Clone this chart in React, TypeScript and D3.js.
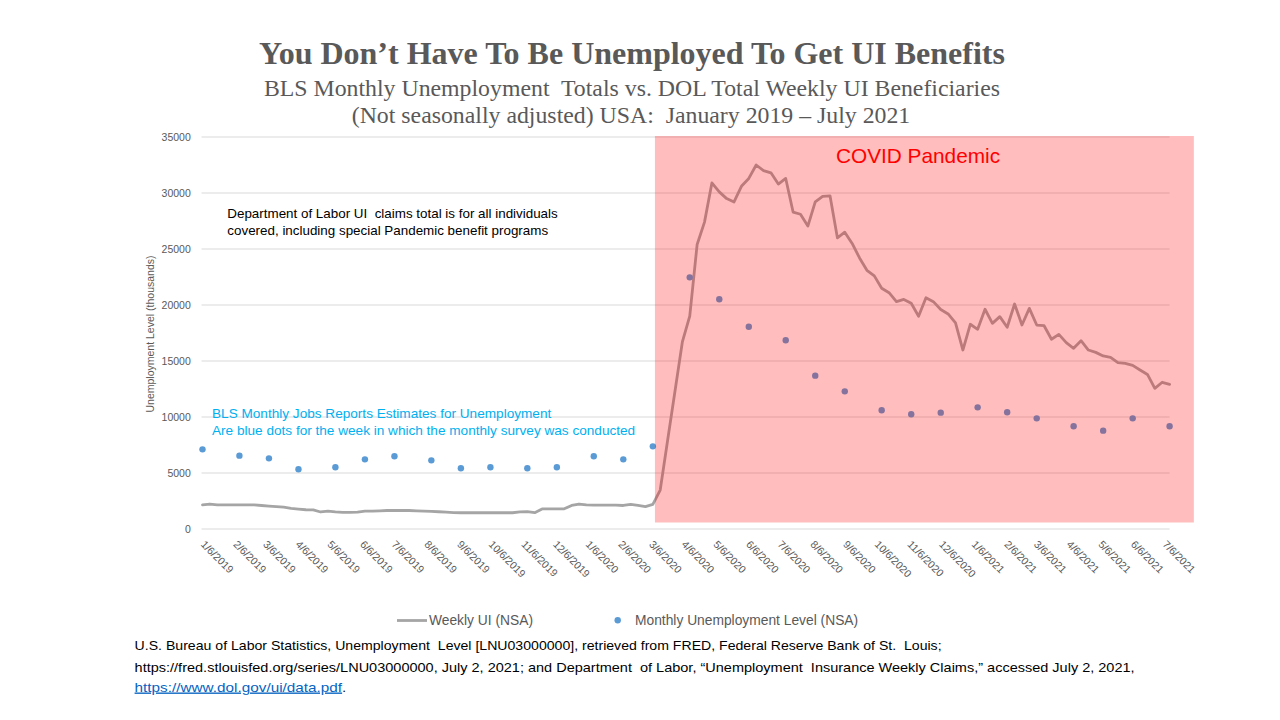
import React from 'react';
import * as d3 from 'd3';

// ---------------- data ----------------
const weekStart = '2019-01-12';
// DOL total weekly UI beneficiaries (thousands), one value per week from weekStart
const weeklyUI = [
  2150, 2230, 2160, 2150, 2150, 2150, 2150, 2150, 2100, 2050,
  2000, 1950, 1850, 1780, 1720, 1700, 1520, 1600, 1530, 1490,
  1490, 1500, 1600, 1600, 1620, 1650, 1650, 1650, 1650, 1620,
  1600, 1580, 1540, 1500, 1470, 1450, 1450, 1450, 1450, 1450,
  1450, 1450, 1450, 1520, 1550, 1460, 1790, 1790, 1790, 1800,
  2100, 2230, 2150, 2140, 2140, 2140, 2140, 2100, 2200, 2100,
  2000, 2200, 3480, 7900, 12300, 16700, 19000, 25400, 27400, 30900,
  30100, 29500, 29200, 30600, 31300, 32500, 32000, 31800, 30800, 31300,
  28300, 28100, 27050, 29200, 29700, 29750, 26000, 26500, 25500, 24200,
  23100, 22600, 21500, 21100, 20300, 20500, 20150, 19000, 20650, 20300,
  19600, 19200, 18400, 15980, 18280, 17830, 19620, 18360, 18960, 18010,
  20090, 18210, 19700, 18210, 18150, 16940, 17380, 16640, 16130, 16810,
  15980, 15770, 15450, 15330, 14850, 14790, 14610, 14200, 13800, 12560,
  13100, 12920,
];

// BLS survey weeks (week ending) and monthly unemployment level (thousands)
const surveyWeeks = [
  '2019-01-12', '2019-02-16', '2019-03-16', '2019-04-13', '2019-05-18', '2019-06-15',
  '2019-07-13', '2019-08-17', '2019-09-14', '2019-10-12', '2019-11-16', '2019-12-14',
  '2020-01-18', '2020-02-15', '2020-03-14', '2020-04-18', '2020-05-16', '2020-06-13',
  '2020-07-18', '2020-08-15', '2020-09-12', '2020-10-17', '2020-11-14', '2020-12-12',
  '2021-01-16', '2021-02-13', '2021-03-13', '2021-04-17', '2021-05-15', '2021-06-12',
  '2021-07-17',
];
const monthlyUnemployment = [
  7110, 6550, 6310, 5330, 5510, 6220, 6490, 6130, 5420, 5510, 5420, 5510,
  6490, 6220, 7380, 22470, 20510, 18060, 16850, 13690, 12290, 10600, 10240, 10390,
  10860, 10420, 9880, 9170, 8780, 9880, 9170,
];

const xTickDates = [
  '2019-01-06', '2019-02-06', '2019-03-06', '2019-04-06', '2019-05-06', '2019-06-06',
  '2019-07-06', '2019-08-06', '2019-09-06', '2019-10-06', '2019-11-06', '2019-12-06',
  '2020-01-06', '2020-02-06', '2020-03-06', '2020-04-06', '2020-05-06', '2020-06-06',
  '2020-07-06', '2020-08-06', '2020-09-06', '2020-10-06', '2020-11-06', '2020-12-06',
  '2021-01-06', '2021-02-06', '2021-03-06', '2021-04-06', '2021-05-06', '2021-06-06',
  '2021-07-06',
];
const xTickLabels = [
  '1/6/2019', '2/6/2019', '3/6/2019', '4/6/2019', '5/6/2019', '6/6/2019',
  '7/6/2019', '8/6/2019', '9/6/2019', '10/6/2019', '11/6/2019', '12/6/2019',
  '1/6/2020', '2/6/2020', '3/6/2020', '4/6/2020', '5/6/2020', '6/6/2020',
  '7/6/2020', '8/6/2020', '9/6/2020', '10/6/2020', '11/6/2020', '12/6/2020',
  '1/6/2021', '2/6/2021', '3/6/2021', '4/6/2021', '5/6/2021', '6/6/2021',
  '7/6/2021',
];
const yTicks = [0, 5000, 10000, 15000, 20000, 25000, 30000, 35000];

const covidStart = '2020-03-16';
const covidEnd = '2021-08-09';

// ---------------- component ----------------
const parse = d3.timeParse('%Y-%m-%d');

export default function App() {
  const start = parse(weekStart) as Date;
  const weekly = weeklyUI.map((v, i) => ({ date: d3.timeDay.offset(start, 7 * i), v }));
  const monthly = surveyWeeks.map((d, i) => ({ date: parse(d) as Date, v: monthlyUnemployment[i] }));

  const plotLeft = 202.5;
  const plotRight = 1169.6;
  const plotTop = 137;
  const plotBottom = 529;

  const x = d3.scaleTime()
    .domain([start, weekly[weekly.length - 1].date])
    .range([plotLeft, plotRight]);
  const y = d3.scaleLinear().domain([0, 35000]).range([plotBottom, plotTop]);

  const line = d3.line<{ date: Date; v: number }>()
    .x((d) => x(d.date))
    .y((d) => y(d.v));

  const gray = '#595959';
  const sans = '"Liberation Sans", Arial, sans-serif';
  const serif = '"Liberation Serif", "Times New Roman", serif';

  const cx0 = x(parse(covidStart) as Date);
  const cx1 = x(parse(covidEnd) as Date);

  return (
    <svg
      width={1280}
      height={720}
      style={{ position: 'absolute', left: 0, top: 0, background: '#fff' }}
      fontFamily={sans}
    >
      <rect x={0} y={0} width={1280} height={720} fill="#fff" />

      {/* titles */}
      <text x={632} y={64} textAnchor="middle" fontFamily={serif} fontWeight="bold" fontSize={32} fill={gray}>
        You Don’t Have To Be Unemployed To Get UI Benefits
      </text>
      <text x={632} y={95.5} textAnchor="middle" fontFamily={serif} fontSize={23.8} fill={gray} style={{ whiteSpace: 'pre' }}>
        BLS Monthly Unemployment  Totals vs. DOL Total Weekly UI Beneficiaries
      </text>
      <text x={631} y={122.5} textAnchor="middle" fontFamily={serif} fontSize={23.8} fill={gray} style={{ whiteSpace: 'pre' }}>
        (Not seasonally adjusted) USA:  January 2019 – July 2021
      </text>

      {/* gridlines */}
      {yTicks.map((t) => (
        <line key={t} x1={plotLeft - 1} x2={plotRight} y1={y(t)} y2={y(t)} stroke="#D9D9D9" strokeWidth={1} />
      ))}
      {/* y tick labels */}
      {yTicks.map((t) => (
        <text key={'l' + t} x={190.8} y={y(t) + 3.8} textAnchor="end" fontSize={10.5} fill={gray}>
          {t}
        </text>
      ))}
      <text
        transform={`translate(154,334) rotate(-90)`}
        textAnchor="middle"
        fontSize={10.5}
        fill={gray}
      >
        Unemployment Level (thousands)
      </text>

      {/* x tick labels */}
      {xTickDates.map((d, i) => {
        const tx = x(parse(d) as Date);
        return (
          <text key={d} transform={`translate(${tx + 4},${545}) rotate(45)`} fontSize={10.5} fill={gray}>
            {xTickLabels[i]}
          </text>
        );
      })}

      {/* weekly UI line */}
      <path d={line(weekly) || ''} fill="none" stroke="#A5A5A5" strokeWidth={2.8} strokeLinejoin="round" strokeLinecap="round" />

      {/* monthly dots */}
      {monthly.map((d, i) => (
        <circle key={i} cx={x(d.date)} cy={y(d.v)} r={3.2} fill="#5B9BD5" />
      ))}

      {/* annotations */}
      <text fontSize={13.4} fill="#000" style={{ whiteSpace: 'pre' }}>
        <tspan x={227.3} y={218}>Department of Labor UI  claims total is for all individuals</tspan>
        <tspan x={227.3} y={235}>covered, including special Pandemic benefit programs</tspan>
      </text>
      <text fontSize={13.6} fill="#00B0F0">
        <tspan x={212} y={418}>BLS Monthly Jobs Reports Estimates for Unemployment</tspan>
        <tspan x={212} y={434.8}>Are blue dots for the week in which the monthly survey was conducted</tspan>
      </text>

      {/* COVID overlay */}
      <rect x={cx0} y={136} width={cx1 - cx0} height={386.5} fill="rgba(255,0,0,0.26)" />
      <text x={918} y={163} textAnchor="middle" fontSize={20.8} fill="#FF0000">
        COVID Pandemic
      </text>

      {/* legend */}
      <line x1={397} x2={427} y1={620.5} y2={620.5} stroke="#A5A5A5" strokeWidth={2.8} />
      <text x={429} y={625.3} fontSize={13.8} fill={gray}>Weekly UI (NSA)</text>
      <circle cx={617.7} cy={620.3} r={3.2} fill="#5B9BD5" />
      <text x={635} y={625.3} fontSize={13.8} fill={gray}>Monthly Unemployment Level (NSA)</text>

      {/* source */}
      <text x={134.6} y={650} fontSize={13.5} fill="#000" textLength={807} lengthAdjust="spacingAndGlyphs" style={{ whiteSpace: 'pre' }}>
        U.S. Bureau of Labor Statistics, Unemployment  Level [LNU03000000], retrieved from FRED, Federal Reserve Bank of St.  Louis;
      </text>
      <text x={134.6} y={671.5} fontSize={13.5} fill="#000" textLength={1000} lengthAdjust="spacingAndGlyphs" style={{ whiteSpace: 'pre' }}>
        https://fred.stlouisfed.org/series/LNU03000000, July 2, 2021; and Department  of Labor, “Unemployment  Insurance Weekly Claims,” accessed July 2, 2021,
      </text>
      <text x={134.6} y={691.5} fontSize={13.5} fill="#0563C1" textLength={207.5} lengthAdjust="spacingAndGlyphs" textDecoration="underline">
        https://www.dol.gov/ui/data.pdf
      </text>
      <text x={342.3} y={691.5} fontSize={13.5} fill="#000">.</text>
    </svg>
  );
}
